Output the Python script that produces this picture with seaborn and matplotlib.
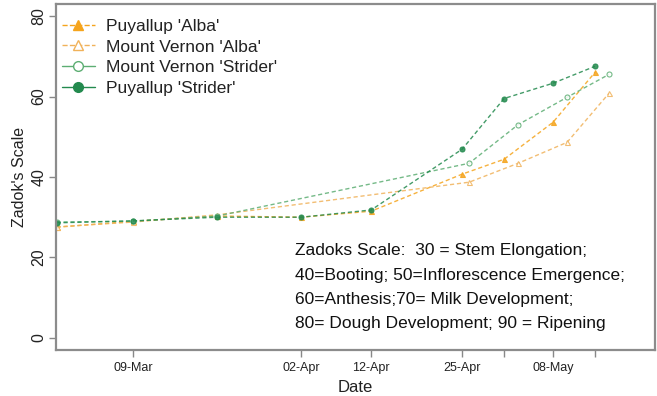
import matplotlib
matplotlib.use("Agg")
import matplotlib.pyplot as plt
from matplotlib.lines import Line2D
import pandas as pd
import seaborn as sns

# Sampling dates
puyallup_dates = ["2015-02-26", "2015-03-09", "2015-03-21", "2015-04-02", "2015-04-12",
                  "2015-04-25", "2015-05-01", "2015-05-08", "2015-05-14"]
mtvernon_dates = ["2015-02-26", "2015-03-09", "2015-03-21", "2015-04-26",
                  "2015-05-03", "2015-05-10", "2015-05-16"]

# Zadoks stage readings
puyallup_alba = [27.5, 29.0, 30.3, 30.0, 31.5, 40.7, 44.4, 53.6, 66.0]
mtvernon_alba = [27.6, 28.8, 30.6, 38.7, 43.4, 48.6, 60.8]
mtvernon_strider = [28.8, 29.0, 30.3, 43.4, 53.0, 59.8, 65.5]
puyallup_strider = [28.6, 29.1, 30.0, 30.0, 31.8, 46.9, 59.5, 63.3, 67.5]

series_names = ["Puyallup 'Alba'", "Mount Vernon 'Alba'", "Mount Vernon 'Strider'", "Puyallup 'Strider'"]

tick_dates = ["2015-03-09", "2015-04-02", "2015-04-12", "2015-04-25",
              "2015-05-01", "2015-05-08", "2015-05-14"]
tick_labels = ["09-Mar", "02-Apr", "12-Apr", "25-Apr", "", "08-May", ""]

note_lines = [
    "Zadoks Scale:  30 = Stem Elongation;",
    "40=Booting; 50=Inflorescence Emergence;",
    "60=Anthesis;70= Milk Development;",
    "80= Dough Development; 90 = Ripening",
]

sns.set_style("white")
plt.rcParams["font.family"] = ["Liberation Sans", "DejaVu Sans"]

fig = plt.figure(figsize=(6.57, 3.96), dpi=100)
ax = fig.add_axes([0.0852, 0.1162, 0.9118, 0.8738])

styles = [
    dict(name=series_names[0], dates=puyallup_dates, vals=puyallup_alba,
         color="#F5A41C", marker="^", fill=True, legend_ls="--"),
    dict(name=series_names[1], dates=mtvernon_dates, vals=mtvernon_alba,
         color="#F0B25A", marker="^", fill=False, legend_ls="--"),
    dict(name=series_names[2], dates=mtvernon_dates, vals=mtvernon_strider,
         color="#5DAE73", marker="o", fill=False, legend_ls="-"),
    dict(name=series_names[3], dates=puyallup_dates, vals=puyallup_strider,
         color="#238A4E", marker="o", fill=True, legend_ls="-"),
]

handles = []
for s in styles:
    df = pd.DataFrame({"Date": pd.to_datetime(s["dates"]), "Zadok": s["vals"]})
    sns.lineplot(data=df, x="Date", y="Zadok", ax=ax, color=s["color"],
                 linestyle=(0, (3, 2)), linewidth=1.0, marker=s["marker"], markersize=3.6,
                 markerfacecolor=s["color"] if s["fill"] else "white",
                 markeredgecolor=s["color"], markeredgewidth=0.8, alpha=0.85)
    handles.append(Line2D([0], [0], color=s["color"], linestyle=s["legend_ls"],
                          linewidth=1.0, marker=s["marker"], markersize=7,
                          markerfacecolor=s["color"] if s["fill"] else "white",
                          markeredgecolor=s["color"], markeredgewidth=1.0))

ax.set_xlim(pd.Timestamp("2015-02-25 22:00"), pd.Timestamp("2015-05-22 14:00"))
ax.set_ylim(-3, 83)
ax.set_yticks([0, 20, 40, 60, 80])
ax.set_xticks(pd.to_datetime(tick_dates))
ax.set_xticklabels(tick_labels, fontsize=9)
for lab in ax.get_yticklabels():
    lab.set_rotation(90)
    lab.set_va("center")
    lab.set_fontsize(11.5)

ax.tick_params(axis="both", which="both", direction="out", length=5, width=1,
               color="#888888", labelcolor="#222222", left=True, bottom=True)
ax.tick_params(axis="y", pad=2)
ax.tick_params(axis="x", pad=4)

for sp in ax.spines.values():
    sp.set_color("#8c8c8c")
    sp.set_linewidth(1.6)

ax.set_xlabel("Date", fontsize=12, color="#222222", labelpad=4)
ax.set_ylabel("Zadok's Scale", fontsize=11.5, color="#222222", labelpad=3)

leg = ax.legend(handles=handles, labels=series_names, loc="upper left",
                bbox_to_anchor=(-0.005, 0.983), frameon=False, fontsize=12.5,
                handlelength=1.9, handletextpad=0.65, labelspacing=0.33,
                borderaxespad=0.1)
for t in leg.get_texts():
    t.set_color("#222222")

for i, line in enumerate(note_lines):
    ax.text(0.399, 0.287 - i * 0.0705, line, transform=ax.transAxes,
            fontsize=12.5, color="#111111", va="center", ha="left")

fig.savefig("out.png", dpi=100)
